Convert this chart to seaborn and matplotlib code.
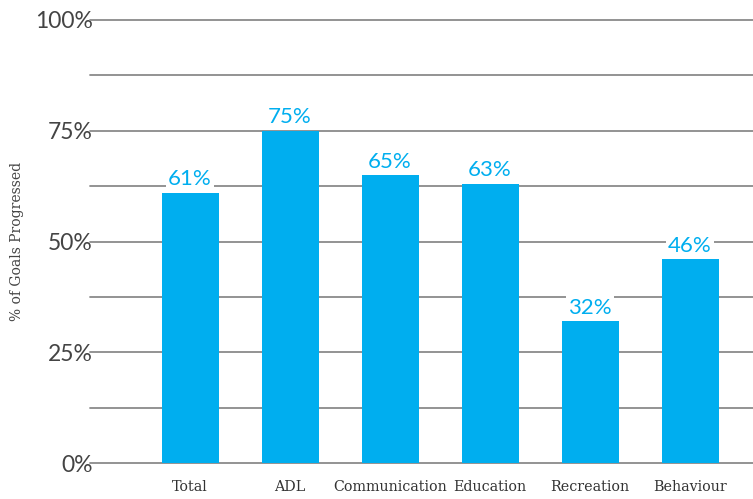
import matplotlib
matplotlib.use("Agg")
import matplotlib.pyplot as plt
import seaborn as sns
import pandas as pd
import numpy as np

categories = ["Total", "ADL", "Communication", "Education", "Recreation", "Behaviour"]
progressed = [61, 75, 65, 63, 32, 46]
y_ticks = [0, 25, 50, 75, 100]
y_tick_labels = ["0%", "25%", "50%", "75%", "100%"]

df = pd.DataFrame({"category": categories, "pct": progressed})

sns.set_theme(style="white")
plt.rcParams["font.family"] = ["Lato", "DejaVu Sans"]

bar_color = "#00AEEF"
grid_color = "#8a8a8a"

fig = plt.figure(figsize=(7.53, 4.99), dpi=100)
ax = fig.add_axes([90 / 753, 36 / 499, 663 / 753, 443 / 499])

sns.barplot(data=df, x="category", y="pct", color=bar_color, saturation=1,
            width=0.57, linewidth=0, edgecolor="none", ax=ax, zorder=3)

# horizontal rules every 12.5%
for v in np.arange(0, 100.1, 12.5):
    ax.axhline(v, color=grid_color, lw=1.3, zorder=1, clip_on=False)

ax.set_ylim(0, 100)
ax.set_xlim(-1.0, 5.63)
ax.set_yticks(y_ticks)
ax.set_yticklabels(y_tick_labels, fontsize=16.5, color="#444444")
ax.tick_params(axis="y", length=0, pad=-2)
ax.tick_params(axis="x", length=0, pad=12)
for lab in ax.get_xticklabels():
    lab.set_fontfamily(["DejaVu Serif"])
    lab.set_fontsize(10.3)
    lab.set_color("#333333")

ax.set_xlabel("")
ax.set_ylabel("% of Goals Progressed", fontsize=10, color="#444444",
              family=["DejaVu Serif"], labelpad=8)
for s in ax.spines.values():
    s.set_visible(False)

for i, v in enumerate(progressed):
    ax.text(i, v + 0.8, f"{v}%", ha="center", va="bottom", fontsize=16,
            color=bar_color, zorder=4,
            bbox=dict(facecolor="white", edgecolor="none", pad=1.5))

fig.savefig("out.png", dpi=100)
